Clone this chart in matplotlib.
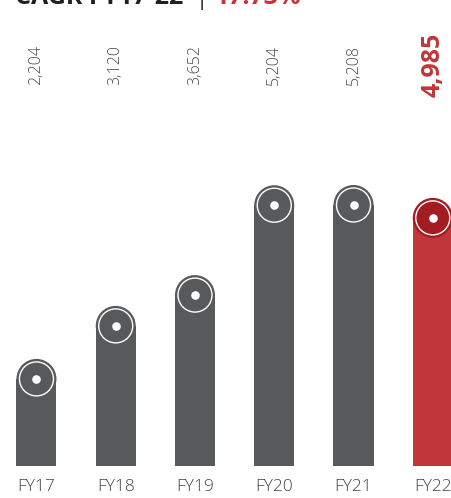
import matplotlib
matplotlib.use("Agg")
import matplotlib.pyplot as plt
import matplotlib.transforms as mtransforms

# data
years = ["FY17", "FY18", "FY19", "FY20", "FY21", "FY22"]
values = [2204, 3120, 3652, 5204, 5208, 4985]
labels = ["2,204", "3,120", "3,652", "5,204", "5,208", "4,985"]
cagr_text = "17.73%"

GREY = "#58595b"
RED = "#c1363a"
DARK_RED = "#a31c22"

plt.rcParams["font.family"] = ["Open Sans", "DejaVu Sans"]

W, H = 451, 498
fig = plt.figure(figsize=(W / 100, H / 100), dpi=100)
base_px = 466  # baseline, pixels from top
ax = fig.add_axes([0, (H - base_px) / H, 1, base_px / H])

px_per_unit = 0.0579
ymin = 700
ax.set_ylim(ymin, ymin + base_px / px_per_unit)
ax.set_xlim(-0.46, 5.23)

x = list(range(len(years)))
colors = [GREY] * 5 + [RED]
caps = [GREY] * 5 + [DARK_RED]

ax.bar(x, values, width=0.505, color=colors, zorder=2)
# rounded top: cap circle, white ring, white dot
ax.scatter(x, values, s=(40 * 0.72) ** 2, color=caps, zorder=3, linewidths=0)
ax.scatter(x, values, s=(34 * 0.72) ** 2, facecolors="none", edgecolors="white",
           linewidths=1.0, zorder=4)
ax.scatter(x, values, s=(8.6 * 0.72) ** 2, color="white", zorder=5, linewidths=0)

# value labels, rotated
trans = mtransforms.blended_transform_factory(ax.transData, ax.transAxes)
ylab = (base_px - 65) / base_px
for i, lab in enumerate(labels):
    if i == len(labels) - 1:
        ax.text(i, ylab, lab, transform=trans, rotation=90, ha="center", va="center",
                fontsize=18, fontweight="bold", color=RED)
    else:
        ax.text(i, ylab, lab, transform=trans, rotation=90, ha="center", va="center",
                fontsize=11.5, fontweight="light", color="#4a4a4a")

ax.set_xticks(x)
ax.set_xticklabels(years, fontsize=12.5, fontweight="light", color="#444444")
ax.tick_params(axis="x", length=0, pad=9)
ax.set_yticks([])
for s in ax.spines.values():
    s.set_visible(False)

# title, mostly cut off at the top edge
ty = (H - 4.5) / H
fig.text(15 / W, ty, "CAGR FY17-22", fontsize=18, fontweight="bold", color="#231f20", va="baseline")
fig.text(196 / W, ty - 1 / H, "|", fontsize=16, color="#231f20", va="baseline")
fig.text(215 / W, ty, cagr_text, fontsize=18, fontweight="bold", color=RED, va="baseline")

fig.savefig("out.png", dpi=100)
